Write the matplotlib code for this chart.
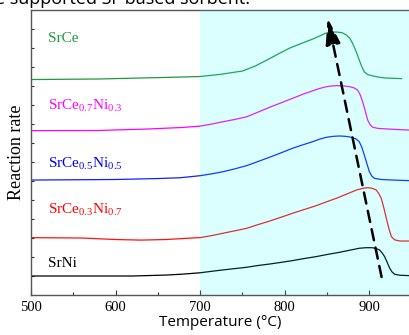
import matplotlib
matplotlib.use('Agg')
import matplotlib.pyplot as plt

plt.rcParams['font.family'] = ['Liberation Serif', 'DejaVu Serif']
plt.rcParams['mathtext.fontset'] = 'custom'
plt.rcParams['mathtext.rm'] = 'Liberation Serif'

# 温度 (°C) 与反应速率 (相对单位, 已含各曲线的纵向偏移)
t_srce = [500, 580, 676, 700, 725, 750, 765, 779, 792, 806, 820, 833, 842, 849, 856, 862, 868, 873,
          877, 880, 884, 888, 891, 894, 898, 904, 912, 920, 938]
r_srce = [11.34, 11.37, 11.47, 11.50, 11.62, 11.79, 12.05, 12.37, 12.68, 13.00, 13.25, 13.47, 13.65,
          13.79, 13.84, 13.84, 13.80, 13.68, 13.50, 13.26, 12.85, 12.37, 12.02, 11.74, 11.60, 11.53,
          11.46, 11.42, 11.39]

t_ce7 = [500, 581, 640, 680, 700, 714, 727, 741, 755, 768, 782, 796, 809, 821, 833, 841, 849, 855,
         861, 869, 877, 882, 886, 889, 892, 895, 898, 901, 904, 910, 920, 947]
r_ce7 = [8.65, 8.66, 8.74, 8.82, 8.89, 9.00, 9.12, 9.24, 9.38, 9.62, 9.88, 10.12, 10.35, 10.56,
         10.75, 10.87, 10.96, 11.00, 11.02, 11.01, 10.96, 10.90, 10.79, 10.55, 10.17, 9.70, 9.21,
         8.95, 8.83, 8.77, 8.74, 8.68]

t_ce5 = [500, 600, 650, 676, 700, 714, 727, 741, 755, 768, 782, 796, 809, 821, 833, 841, 849, 857,
         865, 872, 879, 884, 888, 891, 894, 897, 900, 903, 906, 914, 928, 947]
r_ce5 = [6.05, 6.08, 6.13, 6.17, 6.28, 6.38, 6.49, 6.64, 6.81, 7.02, 7.25, 7.49, 7.72, 7.90, 8.07,
         8.20, 8.30, 8.35, 8.37, 8.35, 8.30, 8.22, 8.07, 7.78, 7.37, 6.92, 6.49, 6.25, 6.14, 6.08,
         6.05, 6.02]

t_ce3 = [500, 560, 600, 630, 660, 690, 700, 714, 727, 741, 755, 768, 782, 796, 809, 823, 837, 849,
         861, 873, 885, 892, 898, 903, 908, 911, 914, 917, 920, 923, 926, 930, 936, 947]
r_ce3 = [3.02, 3.00, 2.92, 2.89, 2.92, 3.00, 3.02, 3.13, 3.25, 3.38, 3.51, 3.70, 3.89, 4.10, 4.30,
         4.50, 4.70, 4.90, 5.09, 5.31, 5.53, 5.61, 5.65, 5.62, 5.53, 5.35, 5.09, 4.60, 4.04, 3.50,
         3.07, 2.90, 2.84, 2.84]

t_srni = [500, 560, 620, 660, 680, 700, 714, 727, 741, 755, 768, 782, 796, 809, 823, 837, 851, 865,
          877, 888, 896, 903, 908, 912, 915, 918, 921, 924, 927, 930, 936, 947]
r_srni = [1.00, 1.00, 1.00, 1.05, 1.10, 1.17, 1.25, 1.32, 1.39, 1.46, 1.55, 1.63, 1.72, 1.81, 1.92,
          2.02, 2.14, 2.25, 2.36, 2.46, 2.49, 2.49, 2.45, 2.37, 2.22, 2.02, 1.72, 1.41, 1.20, 1.09,
          1.04, 1.02]

fig = plt.figure(figsize=(4.10, 3.35), dpi=100)
ax = fig.add_axes([0.0756, 0.1194, 0.9244, 0.8507])

ax.plot(t_srce, r_srce, color='#1f9a3c', lw=0.9)
ax.plot(t_ce7, r_ce7, color='#ff00ff', lw=0.9)
ax.plot(t_ce5, r_ce5, color='#1020ff', lw=0.9)
ax.plot(t_ce3, r_ce3, color='#ff1010', lw=0.9)
ax.plot(t_srni, r_srni, color='black', lw=0.9)

# 高温区阴影
ax.axvspan(700, 960, color='#00ffff', alpha=0.14, lw=0, zorder=3)

# 虚线箭头
ax.annotate('', xy=(850.6, 14.58), xytext=(914.4, 0.95),
            arrowprops=dict(arrowstyle='-|>,head_length=1.6,head_width=0.45', color='black',
                            lw=1.8, linestyle=(0, (4.5, 3)), shrinkA=0, shrinkB=0), zorder=5)

# 标注
ax.text(520, 13.32, 'SrCe', color='#1f9a3c', fontsize=11)
ax.text(520, 9.79, r'SrCe$_{\mathrm{0.7}}$Ni$_{\mathrm{0.3}}$', color='#ff00ff', fontsize=11)
ax.text(520, 6.74, r'SrCe$_{\mathrm{0.5}}$Ni$_{\mathrm{0.5}}$', color='#0000ff', fontsize=11)
ax.text(520, 4.32, r'SrCe$_{\mathrm{0.3}}$Ni$_{\mathrm{0.7}}$', color='#ff0000', fontsize=11)
ax.text(520, 1.47, 'SrNi', color='black', fontsize=11)

ax.set_xlim(500, 948)
ax.set_ylim(0, 15)
ax.set_xticks([500, 600, 700, 800, 900])
ax.set_xticks([550, 650, 750, 850], minor=True)
ax.set_yticks(range(1, 15))
ax.set_yticklabels([])
ax.tick_params(direction='in', length=3.5, width=0.8, colors='#333333', labelsize=10.5,
               labelcolor='black', pad=4)
ax.tick_params(which='minor', direction='in', length=2.2, width=0.8, colors='#333333')
ax.tick_params(axis='y', length=2.5)
for s in ['left', 'bottom', 'top']:
    ax.spines[s].set_color('#555555')
    ax.spines[s].set_linewidth(1.0)
ax.spines['right'].set_visible(False)

ax.set_ylabel('Reaction rate', fontsize=13, labelpad=0.5)
ax.set_xlabel('Temperature (°C)', fontsize=11, family=['Open Sans', 'DejaVu Sans'], labelpad=1)

# 上方残留的正文文字
fig.text(-0.012, 0.988, 'e supported Sr-based sorbent.', fontsize=13,
         family=['Open Sans', 'DejaVu Sans'], va='baseline', ha='left')

fig.savefig('out.png', dpi=100)
